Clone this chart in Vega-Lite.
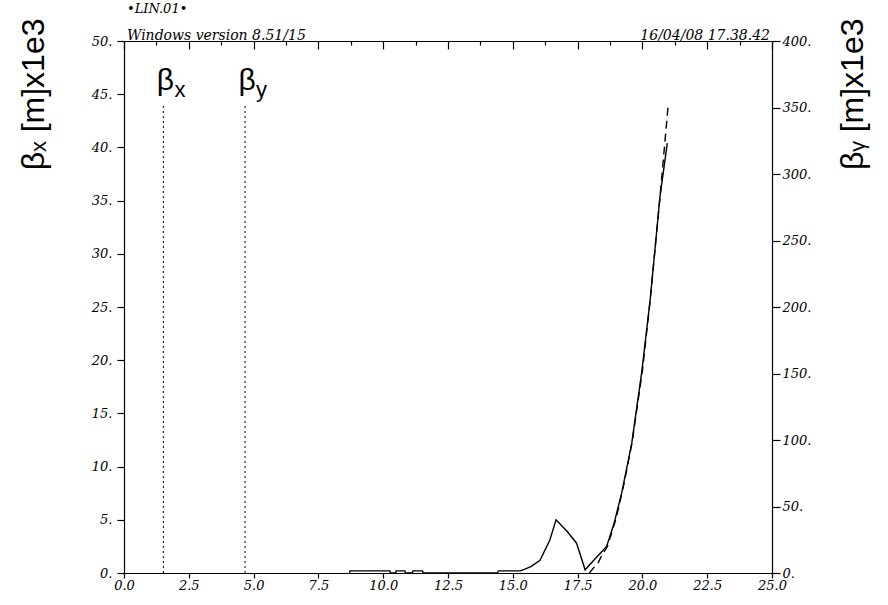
{
  "$schema": "https://vega.github.io/schema/vega-lite/v6.json",
  "width": 648,
  "height": 532,
  "autosize": {"type": "none"},
  "padding": {"left": 124, "top": 41, "right": 116, "bottom": 32},
  "background": "white",
  "config": {
    "view": {"stroke": null},
    "axis": {
      "grid": false,
      "domainColor": "black",
      "domainWidth": 1.2,
      "tickColor": "black",
      "tickWidth": 1.2,
      "labelColor": "black",
      "titleColor": "black",
      "labelFont": "DejaVu Serif",
      "labelFontStyle": "italic",
      "labelFontSize": 13,
      "labelOverlap": false,
      "labelFlush": false,
      "titleFont": "Liberation Sans",
      "titleFontSize": 32,
      "titleFontWeight": "normal"
    }
  },
  "datasets": {
    "bx": [
      {"s": 8.7, "b": 0}, {"s": 8.72, "b": 0.2}, {"s": 10.26, "b": 0.2}, {"s": 10.28, "b": 0},
      {"s": 10.48, "b": 0}, {"s": 10.5, "b": 0.2}, {"s": 10.84, "b": 0.2}, {"s": 10.86, "b": 0},
      {"s": 11.13, "b": 0}, {"s": 11.15, "b": 0.2}, {"s": 11.52, "b": 0.2}, {"s": 11.54, "b": 0},
      {"s": 14.4, "b": 0}, {"s": 14.45, "b": 0.2}, {"s": 15.3, "b": 0.2}, {"s": 15.7, "b": 0.6},
      {"s": 16.05, "b": 1.2}, {"s": 16.43, "b": 3.1}, {"s": 16.67, "b": 5.0}, {"s": 17.1, "b": 3.9},
      {"s": 17.46, "b": 2.8}, {"s": 17.79, "b": 0.3}, {"s": 18.24, "b": 1.5}, {"s": 18.62, "b": 2.5},
      {"s": 18.9, "b": 4.6}, {"s": 19.2, "b": 7.5}, {"s": 19.59, "b": 12.2}, {"s": 19.97, "b": 18.8},
      {"s": 20.3, "b": 25.7}, {"s": 20.68, "b": 35.4}, {"s": 20.96, "b": 40.4}
    ],
    "by": [
      {"s": 17.95, "b": 0}, {"s": 18.3, "b": 8}, {"s": 18.44, "b": 13.5},
      {"s": 18.65, "b": 20}, {"s": 19.0, "b": 42}, {"s": 19.3, "b": 68}, {"s": 19.6, "b": 98},
      {"s": 20.0, "b": 152}, {"s": 20.3, "b": 205}, {"s": 20.68, "b": 283}, {"s": 21.0, "b": 353}
    ],
    "markers": [
      {"s": 1.52, "sym": "β", "sub": "x"},
      {"s": 4.67, "sym": "β", "sub": "y"}
    ]
  },
  "layer": [
    {
      "layer": [
        {
          "data": {"name": "bx"},
          "mark": {"type": "line", "color": "black", "strokeWidth": 1.4},
          "encoding": {
            "x": {
              "field": "s", "type": "quantitative",
              "scale": {"domain": [0, 25], "nice": false, "zero": false},
              "axis": {
                "orient": "bottom", "title": null,
                "values": [0,2.5,5,7.5,10,12.5,15,17.5,20,22.5,25],
                "tickSize": 5, "labelPadding": 1,
                "format": ".1f"
              }
            },
            "y": {
              "field": "b", "type": "quantitative",
              "scale": {"domain": [0, 50], "nice": false},
              "axis": {
                "orient": "left",
                "values": [0,5,10,15,20,25,30,35,40,45,50],
                "tickSize": 7,
                "labelPadding": 5,
                "format": "%-L.", "formatType": "time",
                "title": "βₓ [m]x1e3",
                "titleAngle": -90, "titleAlign": "right", "titleBaseline": "middle",
                "titleX": -91, "titleY": -23
              }
            }
          }
        },
        {
          "data": {"name": "markers"},
          "mark": {"type": "rule", "color": "black", "strokeWidth": 1, "strokeDash": [2, 3]},
          "encoding": {
            "x": {"field": "s", "type": "quantitative"},
            "y": {"datum": 0, "type": "quantitative"},
            "y2": {"datum": 44}
          }
        },
        {
          "data": {"name": "markers"},
          "mark": {"type": "text", "font": "Liberation Sans", "fontSize": 30, "align": "center", "baseline": "alphabetic", "dx": 2, "color": "black"},
          "encoding": {
            "x": {"field": "s", "type": "quantitative"},
            "y": {"datum": 45.4, "type": "quantitative"},
            "text": {"field": "sym"}
          }
        },
        {
          "data": {"name": "markers"},
          "mark": {"type": "text", "font": "Liberation Sans", "fontSize": 22, "align": "left", "baseline": "alphabetic", "dx": 11, "dy": 7, "color": "black"},
          "encoding": {
            "x": {"field": "s", "type": "quantitative"},
            "y": {"datum": 45.4, "type": "quantitative"},
            "text": {"field": "sub"}
          }
        },
        {
          "data": {"values": [{"t": "Windows version 8.51/15"}]},
          "mark": {"type": "text", "font": "DejaVu Serif", "fontStyle": "italic", "fontSize": 14, "align": "left", "baseline": "alphabetic", "dx": 3, "dy": -1, "color": "black"},
          "encoding": {
            "x": {"datum": 0, "type": "quantitative"},
            "y": {"datum": 50, "type": "quantitative"},
            "text": {"field": "t"}
          }
        },
        {
          "data": {"values": [{"t": "16/04/08 17.38.42"}]},
          "mark": {"type": "text", "font": "DejaVu Serif", "fontStyle": "italic", "fontSize": 14, "align": "right", "baseline": "alphabetic", "dx": -2, "dy": -1, "color": "black"},
          "encoding": {
            "x": {"datum": 25, "type": "quantitative"},
            "y": {"datum": 50, "type": "quantitative"},
            "text": {"field": "t"}
          }
        },
        {
          "data": {"values": [{"t": "•LIN.01•"}]},
          "mark": {"type": "text", "font": "DejaVu Serif", "fontStyle": "italic", "fontSize": 13, "align": "left", "baseline": "alphabetic", "dx": 3, "dy": -28, "color": "black"},
          "encoding": {
            "x": {"datum": 0, "type": "quantitative"},
            "y": {"datum": 50, "type": "quantitative"},
            "text": {"field": "t"}
          }
        }
      ]
    },
    {
      "data": {"name": "by"},
      "mark": {"type": "line", "color": "black", "strokeWidth": 1.4, "strokeDash": [8, 5]},
      "encoding": {
        "x": {
          "field": "s", "type": "quantitative",
          "axis": {
            "orient": "top", "title": null, "labels": false,
            "values": [0,1.25,2.5,3.75,5,6.25,7.5,8.75,10,11.25,12.5,13.75,15,16.25,17.5,18.75,20,21.25,22.5,23.75,25],
            "tickSize": {"condition": {"test": "datum.value % 2.5 == 0", "value": -8}, "value": -4}
          }
        },
        "y": {
          "field": "b", "type": "quantitative",
          "scale": {"domain": [0, 400], "nice": false},
          "axis": {
            "orient": "right",
            "values": [0,50,100,150,200,250,300,350,400],
            "tickSize": 8,
            "labelPadding": 2,
            "format": "%-L.", "formatType": "time",
            "title": "βᵧ [m]x1e3",
            "titleAngle": -90, "titleAlign": "right", "titleBaseline": "middle",
            "titleX": 80, "titleY": -23
          }
        }
      }
    }
  ],
  "resolve": {
    "scale": {"y": "independent"},
    "axis": {"x": "independent", "y": "independent"}
  }
}
